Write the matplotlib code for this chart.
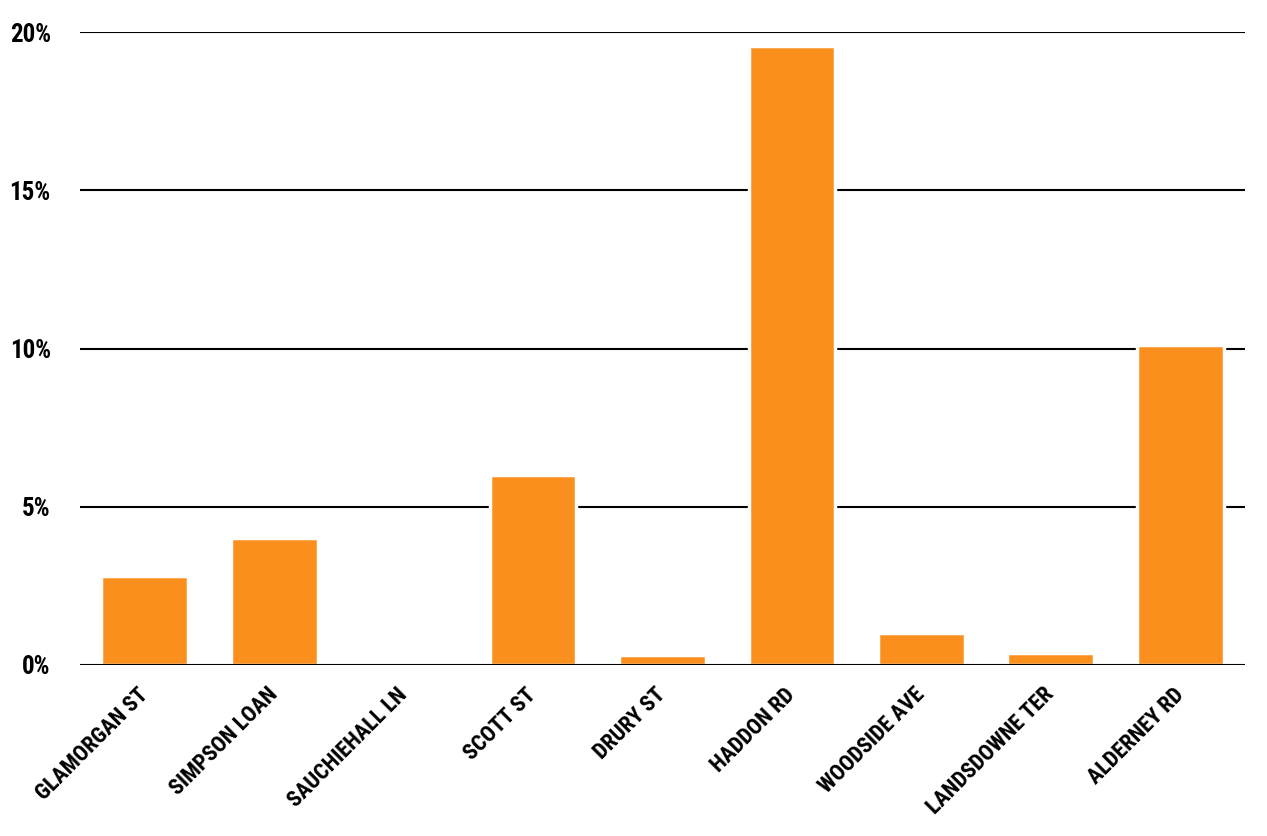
import matplotlib
matplotlib.use("Agg")
import matplotlib.pyplot as plt
from matplotlib import font_manager

categories = ["GLAMORGAN ST", "SIMPSON LOAN", "SAUCHIEHALL LN", "SCOTT ST", "DRURY ST",
              "HADDON RD", "WOODSIDE AVE", "LANDSDOWNE TER", "ALDERNEY RD"]
values = [2.8, 4.0, 0.0, 6.0, 0.33, 19.55, 1.0, 0.38, 10.1]
yticks = [0, 5, 10, 15, 20]
ytick_labels = ["0%", "5%", "10%", "15%", "20%"]

names = {f.name for f in font_manager.fontManager.ttflist}
fam = ["DejaVu Sans"]
for cand in ["Roboto Condensed", "Archivo Narrow", "PT Sans Narrow", "IBM Plex Sans Condensed",
             "Open Sans Condensed", "Oswald"]:
    if cand in names:
        fam = [cand, "DejaVu Sans"]
        break
plt.rcParams['font.family'] = fam

fig = plt.figure(figsize=(12.67, 8.36), dpi=100)
ax = fig.add_axes([80/1267, 1 - 665/836, 1165/1267, (665-32)/836])

x = list(range(len(categories)))
ax.bar(x, values, width=0.67, color="#FA8F1E", edgecolor="white", linewidth=2.5, zorder=3)
for t in yticks:
    ax.axhline(t, color="black", linewidth=1.5, zorder=4 if t == 0 else 2)

ax.set_xlim(-0.5, len(categories) - 0.5)
ax.set_ylim(0, 20)
ax.set_yticks(yticks)
ax.set_yticklabels(ytick_labels, fontsize=18, fontweight="bold")
ax.set_xticks(x)
ax.set_xticklabels(categories, rotation=45, ha="right", va="center", rotation_mode="anchor",
                   fontsize=16, fontweight="bold")
ax.tick_params(axis="both", length=0)
ax.tick_params(axis="y", pad=21)
ax.tick_params(axis="x", pad=19)
for s in ax.spines.values():
    s.set_visible(False)

fig.savefig("out.png", dpi=100, facecolor="white")
